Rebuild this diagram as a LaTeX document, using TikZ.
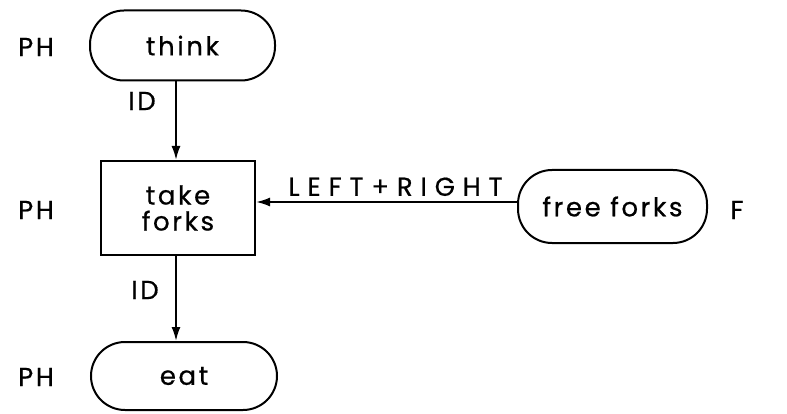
\documentclass[tikz,border=0pt]{standalone}
\usepackage{fontspec}
\setmainfont{Poppins}[LetterSpace=10,FakeBold=0.6]
\newfontfamily\widefont{Poppins}[LetterSpace=30,FakeBold=0.6]
\usetikzlibrary{arrows.meta}
\begin{document}
\begin{tikzpicture}[x=1pt,y=-1pt,
  every node/.style={font=\fontsize{26}{30}\selectfont},
  stadium/.style={draw,line width=2pt,rounded corners=34pt,minimum height=70pt,inner sep=0pt},
  boxnode/.style={draw,line width=2pt,minimum width=154pt,minimum height=94pt,align=center,inner sep=0pt},
  conn/.style={line width=2pt,-{Latex[length=14pt,width=9pt]}},
  lbl/.style={inner sep=0pt}]
\useasboundingbox (0,0) rectangle (787,414);
\node[stadium,minimum width=185pt] (think) at (182.5,45.5) {think};
\node[boxnode] (take) at (178,208) {take\\[-4pt]forks};
\node[stadium,minimum width=186pt,minimum height=68pt] (eat) at (184,376) {eat};
\node[stadium,minimum width=189pt,minimum height=73pt] (free) at (612.5,206.5) {free forks};
\node[lbl] (ph1) at (36,47) {PH};
\node[lbl] (ph2) at (36,210) {PH};
\node[lbl] (ph3) at (36,377) {PH};
\node[lbl] (f) at (737,210) {F};
\draw[conn] (think.south -| 176,0) -- (take.north -| 176,0);
\draw[conn] (take.south -| 176,0) -- (eat.north -| 176,0);
\node[lbl] (id1) at (142,101) {ID};
\node[lbl] (id2) at (145,290) {ID};
\draw[conn] (free.west |- 0,202) -- (take.east |- 0,202) node[lbl,midway,above=5pt,xshift=9pt,font=\widefont\fontsize{26}{30}\selectfont] (lr) {LEFT+RIGHT};
\end{tikzpicture}
\end{document}
